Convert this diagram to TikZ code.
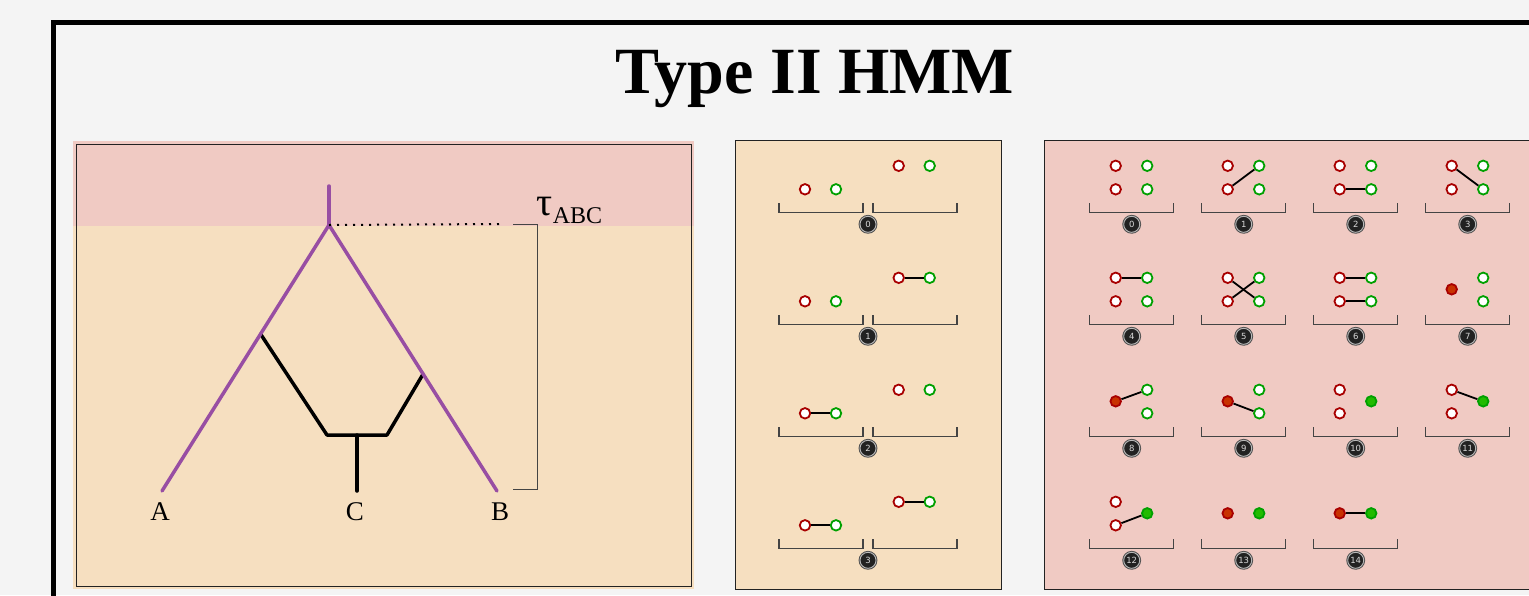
\documentclass[tikz,border=0pt]{standalone}
\usepackage{fontspec}
\newfontfamily\titlefont{Liberation Serif}
\newfontfamily\badgefont{DejaVu Sans}
\usetikzlibrary{calc}
\definecolor{bgc}{HTML}{F4F4F4}
\definecolor{pinkc}{HTML}{F0CAC3}
\definecolor{wheatc}{HTML}{F6DFC0}
\definecolor{purp}{HTML}{984EA3}
\definecolor{redc}{HTML}{A80000}
\definecolor{greenc}{HTML}{00A000}
\definecolor{redf}{HTML}{C83200}
\definecolor{greenf}{HTML}{22BB00}
\definecolor{darkc}{HTML}{222222}
\definecolor{brkc}{HTML}{444444}
\tikzset{
  ored/.style={circle, draw=redc, fill=white, line width=1.8pt, minimum size=10.5pt, inner sep=0pt},
  ogreen/.style={circle, draw=greenc, fill=white, line width=1.8pt, minimum size=10.5pt, inner sep=0pt},
  fred/.style={circle, draw=redc, fill=redf, line width=1.8pt, minimum size=10.5pt, inner sep=0pt},
  fgreen/.style={circle, draw=greenc, fill=greenf, line width=1.8pt, minimum size=10.5pt, inner sep=0pt},
  lnk/.style={draw=black, line width=1.8pt},
  brk/.style={draw=brkc, line width=1.4pt},
  badge/.style={circle, fill=darkc, draw=gray!55, line width=0.9pt, minimum size=16pt, inner sep=0pt,
    preaction={draw=darkc!80, line width=2.8pt}, text=white!85!black,
    font=\badgefont\fontsize{8.5}{8.5}\selectfont},
  panel/.style={draw=darkc, line width=1pt},
  leaf/.style={font=\titlefont\fontsize{27}{30}\selectfont},
  purpline/.style={draw=purp, line width=3.5pt, line cap=round},
  blkline/.style={draw=black, line width=3.5pt, line cap=round, line join=round}
}
\newcommand{\RState}[4]{\begin{scope}[shift={(#2,#3)}]
 \draw[brk] (-42,-21) -- (-42,-12) -- (42,-12) -- (42,-21);
 \node[badge] (badge#1) at (0,0) {#1};
 #4
\end{scope}}
\newcommand{\MState}[3]{\begin{scope}[shift={(868,#2)}]
 \draw[brk] (-89,-21) -- (-89,-12) -- (-5,-12) -- (-5,-21);
 \draw[brk] (5,-21) -- (5,-12) -- (89,-12) -- (89,-21);
 \node[badge] (mbadge#1) at (0,0) {#1};
 \node[ored] (m#1lr) at (-63,-35) {};
 \node[ogreen] (m#1lg) at (-32,-35) {};
 \node[ored] (m#1rr) at (30.7,-58.5) {};
 \node[ogreen] (m#1rg) at (61.7,-58.5) {};
 #3
\end{scope}}
\newcommand{\RT}[1]{\node[ored] (#1) at (-16,-58.5) {};}
\newcommand{\RB}[1]{\node[ored] (#1) at (-16,-35) {};}
\newcommand{\RM}[1]{\node[fred] (#1) at (-16,-47) {};}
\newcommand{\GT}[1]{\node[ogreen] (#1) at (15.5,-58.5) {};}
\newcommand{\GB}[1]{\node[ogreen] (#1) at (15.5,-35) {};}
\newcommand{\GM}[1]{\node[fgreen] (#1) at (15.5,-47) {};}
\newcommand{\Lk}[2]{\draw[lnk] (#1) -- (#2);}
\begin{document}
\begin{tikzpicture}[x=1pt,y=-1pt]
\useasboundingbox[fill=bgc] (0,0) rectangle (1529,595);
\clip (0,0) rectangle (1529,595);
% outer frame
\draw[line width=5pt] (53,620) -- (53,22.5) -- (1560,22.5);
\node[anchor=base, font=\titlefont\bfseries\fontsize{66}{72}\selectfont] (title) at (815,93.5) {Type II HMM};
% left panel
\fill[pinkc] (73,141) rectangle (694,226);
\fill[wheatc] (73,226) rectangle (694,589);
\draw[panel] (76,144) rectangle (691,586);
\coordinate (top) at (329,186);
\coordinate (root) at (329,225);
\coordinate (A) at (162,491);
\coordinate (B) at (497,491);
\coordinate (C) at (357,491);
\coordinate (j1) at ($(root)!0.4098!(A)$);
\coordinate (j2) at ($(root)!0.5602!(B)$);
\coordinate (k1) at (327,435);
\coordinate (k2) at (387,435);
\coordinate (kc) at (357,435);
\draw[blkline] (j1) -- (k1) -- (k2) -- (j2);
\draw[blkline] (kc) -- (C);
\draw[purpline] (top) -- (root);
\draw[purpline] (A) -- (root) -- (B);
\coordinate (dotend) at (500,224);
\draw[line width=2pt, dash pattern=on 2pt off 6pt] (root) -- (dotend);
\coordinate (br1) at (513,224);
\coordinate (br2) at (537,224);
\coordinate (br3) at (537,489);
\coordinate (br4) at (513,489);
\draw[draw=brkc, line width=1pt] (br1) -- (br2) -- (br3) -- (br4);
\node[anchor=base west, inner sep=0pt, font=\titlefont\fontsize{40}{44}\selectfont] (tau) at (536,215)
  {τ\kern0.5pt\raisebox{-8pt}{\fontsize{24}{24}\selectfont ABC}};
\node[leaf] (lA) at (160,512) {A};
\node[leaf] (lC) at (355,512) {C};
\node[leaf] (lB) at (500,512) {B};
% middle panel
\draw[panel, fill=wheatc] (735,140) rectangle (1001,589);
\MState{0}{224.3}{}
\MState{1}{336.3}{\Lk{m1rr}{m1rg}}
\MState{2}{448.3}{\Lk{m2lr}{m2lg}}
\MState{3}{560.3}{\Lk{m3lr}{m3lg}\Lk{m3rr}{m3rg}}
% right panel
\draw[panel, fill=pinkc] (1044,140) rectangle (1560,589);
\RState{0}{1131.7}{224.3}{\RT{s0rt}\RB{s0rb}\GT{s0gt}\GB{s0gb}}
\RState{1}{1243.7}{224.3}{\RT{s1rt}\RB{s1rb}\GT{s1gt}\GB{s1gb}\Lk{s1rb}{s1gt}}
\RState{2}{1355.7}{224.3}{\RT{s2rt}\RB{s2rb}\GT{s2gt}\GB{s2gb}\Lk{s2rb}{s2gb}}
\RState{3}{1467.7}{224.3}{\RT{s3rt}\RB{s3rb}\GT{s3gt}\GB{s3gb}\Lk{s3rt}{s3gb}}
\RState{4}{1131.7}{336.3}{\RT{s4rt}\RB{s4rb}\GT{s4gt}\GB{s4gb}\Lk{s4rt}{s4gt}}
\RState{5}{1243.7}{336.3}{\RT{s5rt}\RB{s5rb}\GT{s5gt}\GB{s5gb}\Lk{s5rt}{s5gb}\Lk{s5rb}{s5gt}}
\RState{6}{1355.7}{336.3}{\RT{s6rt}\RB{s6rb}\GT{s6gt}\GB{s6gb}\Lk{s6rt}{s6gt}\Lk{s6rb}{s6gb}}
\RState{7}{1467.7}{336.3}{\RM{s7rm}\GT{s7gt}\GB{s7gb}}
\RState{8}{1131.7}{448.3}{\RM{s8rm}\GT{s8gt}\GB{s8gb}\Lk{s8rm}{s8gt}}
\RState{9}{1243.7}{448.3}{\RM{s9rm}\GT{s9gt}\GB{s9gb}\Lk{s9rm}{s9gb}}
\RState{10}{1355.7}{448.3}{\RT{s10rt}\RB{s10rb}\GM{s10gm}}
\RState{11}{1467.7}{448.3}{\RT{s11rt}\RB{s11rb}\GM{s11gm}\Lk{s11rt}{s11gm}}
\RState{12}{1131.7}{560.3}{\RT{s12rt}\RB{s12rb}\GM{s12gm}\Lk{s12rb}{s12gm}}
\RState{13}{1243.7}{560.3}{\RM{s13rm}\GM{s13gm}}
\RState{14}{1355.7}{560.3}{\RM{s14rm}\GM{s14gm}\Lk{s14rm}{s14gm}}
\end{tikzpicture}
\end{document}
